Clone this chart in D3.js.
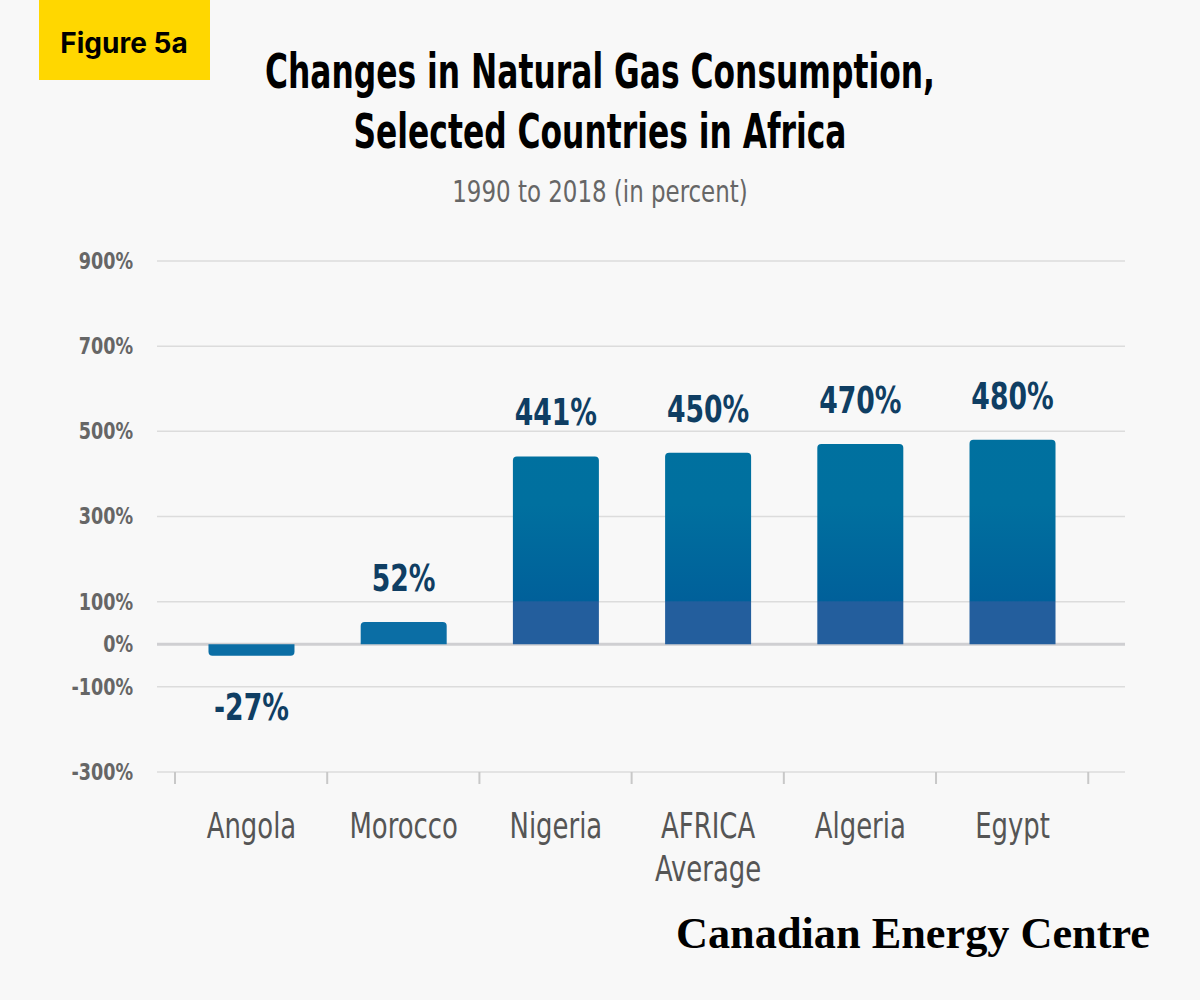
<!DOCTYPE html>
<html>
<head>
<meta charset="utf-8">
<script src="https://cdn.jsdelivr.net/npm/d3@7"></script>
<style>
  body { margin: 0; background: #f8f8f8; }
  .cond { font-family: "Liberation Sans Narrow", "DejaVu Sans Condensed", sans-serif; }
</style>
</head>
<body>
<script>
var categories = ["Angola", "Morocco", "Nigeria", "AFRICA\nAverage", "Algeria", "Egypt"];
var values = [-27, 52, 441, 450, 470, 480];
var labels = ["-27%", "52%", "441%", "450%", "470%", "480%"];
var yTicks = [-300, -100, 0, 100, 300, 500, 700, 900];

var w = 1200, h = 1000;
var svg = d3.select("body").append("svg").attr("width", w).attr("height", h)
  .style("background", "#f8f8f8");

var x = d3.scaleBand().domain(categories).range([175, 1089]).paddingInner(0.435).paddingOuter(0.22);
var y = d3.scaleLinear().domain([-300, 900]).range([772, 261]);

// squeeze text horizontally around its anchor x
function squeeze(sel, k) {
  sel.attr("transform", function() {
    var ax = +d3.select(this).attr("data-x");
    return "translate(" + ax + ",0) scale(" + k + ",1) translate(" + (-ax) + ",0)";
  });
}

var defs = svg.append("defs");
var grad = defs.append("linearGradient").attr("id", "barGrad")
  .attr("gradientUnits", "userSpaceOnUse")
  .attr("x1", 0).attr("x2", 0).attr("y1", y(900)).attr("y2", y(-300));
var span = y(-300) - y(900);
var stops = [[0, "#00729f"], [(y(330) - y(900)) / span, "#00709f"],
             [(y(100) - y(900)) / span - 0.001, "#00609a"],
             [(y(100) - y(900)) / span, "#235e9d"], [1, "#235e9d"]];
stops.forEach(function(s) { grad.append("stop").attr("offset", s[0]).attr("stop-color", s[1]); });

// badge
svg.append("rect").attr("x", 39).attr("y", 0).attr("width", 171).attr("height", 80).attr("fill", "#ffd700");
svg.append("text").attr("x", 124).attr("y", 53).attr("text-anchor", "middle")
  .style("font-family", "Inter, sans-serif").style("font-weight", 700).style("font-size", "28px")
  .text("Figure 5a");

// title
var title = svg.append("text").attr("class", "cond").attr("text-anchor", "middle")
  .style("font-weight", 700).style("font-size", "48px").attr("fill", "#000");
title.append("tspan").attr("x", 600).attr("y", 88).attr("textLength", 670).attr("lengthAdjust", "spacingAndGlyphs")
  .text("Changes in Natural Gas Consumption,");
title.append("tspan").attr("x", 600).attr("y", 148).attr("textLength", 493).attr("lengthAdjust", "spacingAndGlyphs")
  .text("Selected Countries in Africa");
svg.append("text").attr("class", "cond").attr("x", 600).attr("data-x", 600).attr("y", 202).attr("text-anchor", "middle")
  .style("font-size", "30px").attr("fill", "#666").text("1990 to 2018 (in percent)").call(squeeze, 0.85);

// grid
svg.append("g").selectAll("line").data(yTicks).join("line")
  .attr("x1", 157).attr("x2", 1125).attr("y1", function(d) { return y(d); }).attr("y2", function(d) { return y(d); })
  .attr("stroke", function(d) { return d === 0 ? "#cfcfd2" : "#dcdcdc"; })
  .attr("stroke-width", function(d) { return d === 0 ? 3 : 1.5; });

svg.append("g").selectAll("text").data(yTicks).join("text").attr("class", "cond")
  .attr("x", 133).attr("data-x", 133).attr("y", function(d) { return y(d) + 8; }).attr("text-anchor", "end")
  .style("font-size", "23px").style("font-weight", 700).attr("fill", "#666")
  .text(function(d) { return d + "%"; }).call(squeeze, 0.85);

// x-axis ticks
var tickX = d3.range(7).map(function(i) { return 175 + i * x.step(); });
svg.append("g").selectAll("line").data(tickX).join("line")
  .attr("x1", function(d) { return d; }).attr("x2", function(d) { return d; })
  .attr("y1", 772).attr("y2", 784).attr("stroke", "#c8c8c8").attr("stroke-width", 2);

// bars
svg.append("g").selectAll("path").data(values).join("path")
  .attr("d", function(d, i) {
    var x0 = x(categories[i]), bw = x.bandwidth(), r = 4;
    if (d >= 0) {
      var t = y(d), b = y(0);
      return "M" + x0 + "," + b + "V" + (t + r) + "Q" + x0 + "," + t + " " + (x0 + r) + "," + t +
        "H" + (x0 + bw - r) + "Q" + (x0 + bw) + "," + t + " " + (x0 + bw) + "," + (t + r) + "V" + b + "Z";
    }
    var t2 = y(0), b2 = y(d);
    return "M" + x0 + "," + t2 + "V" + (b2 - r) + "Q" + x0 + "," + b2 + " " + (x0 + r) + "," + b2 +
      "H" + (x0 + bw - r) + "Q" + (x0 + bw) + "," + b2 + " " + (x0 + bw) + "," + (b2 - r) + "V" + t2 + "Z";
  })
  .attr("fill", function(d) { return d >= 100 ? "url(#barGrad)" : "#0b6ea5"; });

// value labels
svg.append("g").selectAll("text").data(values).join("text").attr("class", "cond")
  .attr("x", function(d, i) { return x(categories[i]) + x.bandwidth() / 2; })
  .attr("data-x", function(d, i) { return x(categories[i]) + x.bandwidth() / 2; })
  .attr("y", function(d) { return d >= 0 ? y(d) - 31 : y(d) + 64; })
  .attr("text-anchor", "middle").style("font-size", "38px").style("font-weight", 700).attr("fill", "#0f3e63")
  .text(function(d, i) { return labels[i]; }).call(squeeze, 0.78);

// category labels
svg.append("g").selectAll("text").data(categories).join("text").attr("class", "cond")
  .attr("data-x", function(d) { return x(d) + x.bandwidth() / 2; })
  .attr("text-anchor", "middle").style("font-size", "36px").attr("fill", "#555")
  .each(function(d) {
    var t = d3.select(this), cx = x(d) + x.bandwidth() / 2;
    d.split("\n").forEach(function(line, k) {
      t.append("tspan").attr("x", cx).attr("y", 838 + k * 43).text(line);
    });
  }).call(squeeze, 0.8);

// credit
svg.append("text").attr("x", 1150).attr("y", 948).attr("text-anchor", "end")
  .style("font-family", "'Liberation Serif', 'DejaVu Serif', serif").style("font-weight", 700)
  .style("font-size", "44px").attr("fill", "#000")
  .attr("textLength", 474).attr("lengthAdjust", "spacingAndGlyphs")
  .text("Canadian Energy Centre");
</script>
</body>
</html>
